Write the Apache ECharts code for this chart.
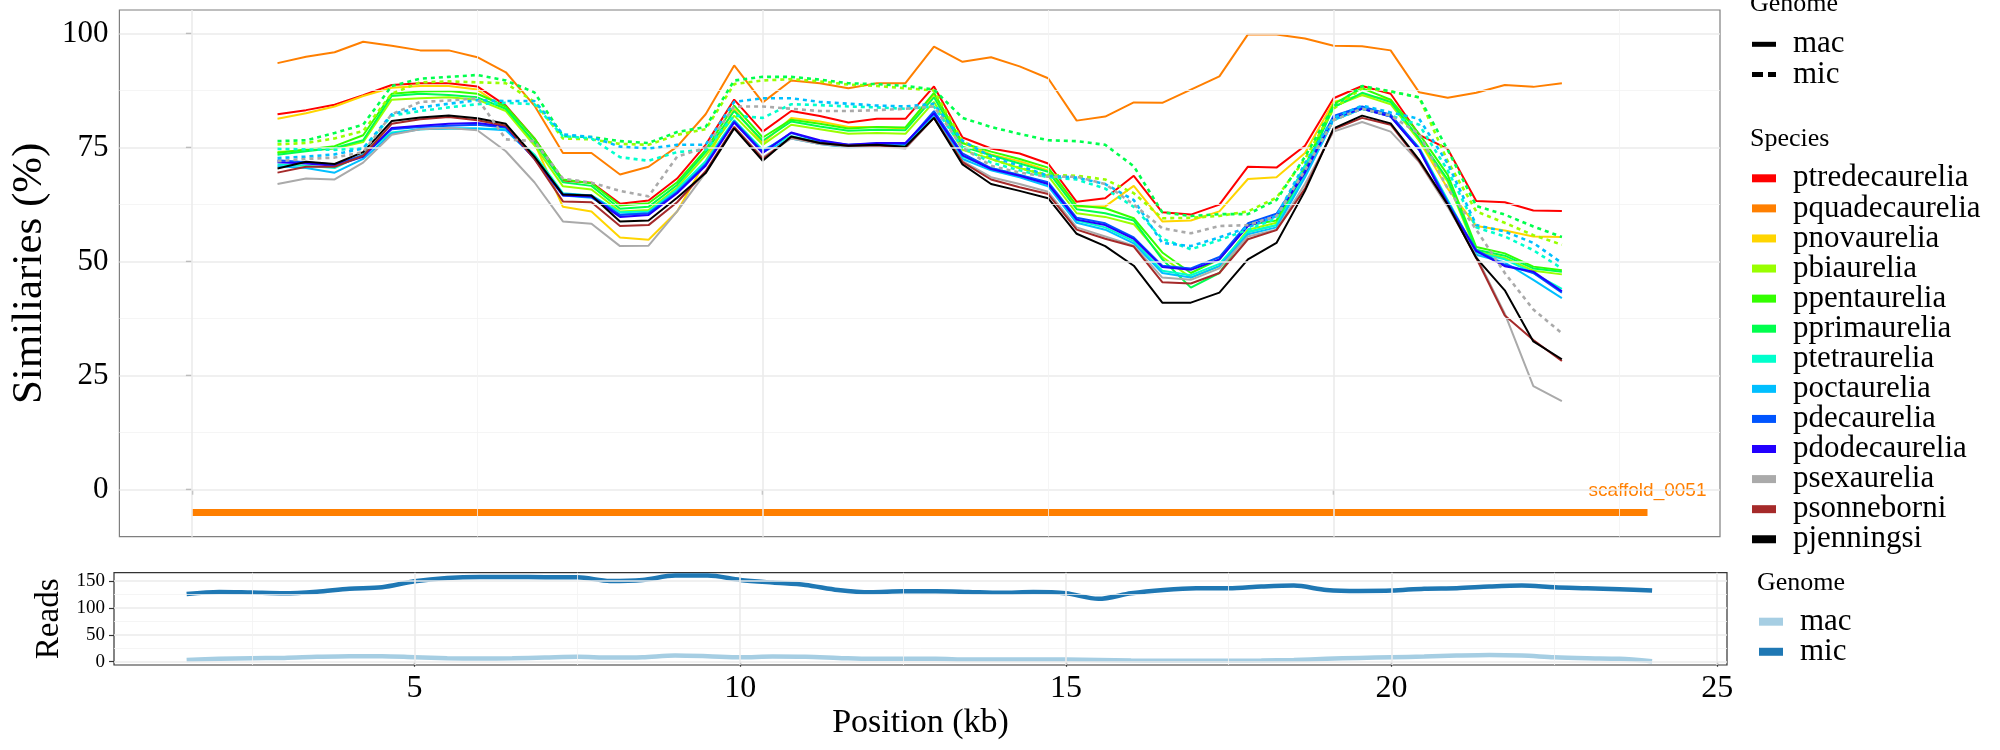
<!DOCTYPE html>
<html><head><meta charset="utf-8">
<script src="https://cdn.jsdelivr.net/npm/echarts@6/dist/echarts.min.js"></script>
<style>html,body{margin:0;padding:0;background:#fff}#c{width:2000px;height:750px}</style>
</head><body><div id="c"></div>
<script>
// ---------- data ----------
const positions = [1.5,2,2.5,3,3.5,4,4.5,5,5.5,6,6.5,7,7.5,8,8.5,9,9.5,10,10.5,11,11.5,12,12.5,13,13.5,14,14.5,15,15.5,16,16.5,17,17.5,18,18.5,19,19.5,20,20.5,21,21.5,22,22.5,23,23.5,24];

const species = ['ptredecaurelia','pquadecaurelia','pnovaurelia','pbiaurelia','ppentaurelia','pprimaurelia','ptetraurelia','poctaurelia','pdecaurelia','pdodecaurelia','psexaurelia','psonneborni','pjenningsi'];
const speciesColors = ['#FF0000','#FF7F00','#FFD500','#99FF00','#33FF00','#00FF4D','#00FFCC','#00BFFF','#0055FF','#2200FF','#AAAAAA','#A52A2A','#000000'];

const macPtredecaurelia = [82.3,83.2,84.4,86.5,88.7,89.1,89.1,88.4,84.2,77.0, 67.8,67.3,62.7,63.4,68.2,75.6,85.5,78.5,83.0,81.9, 80.5,81.3,81.3,88.4,77.2,74.8,73.7,71.5,63.1,63.9, 68.8,60.8,60.3,62.5,70.8,70.6,75.4,85.8,88.5,86.8, 77.8,74.7,63.3,63.0,61.2,61.1];
const macPquadecaurelia = [93.5,94.9,95.9,98.2,97.3,96.3,96.3,94.8,91.5,84.2, 73.8,73.8,69.1,70.8,75.2,82.3,93.0,84.9,89.7,89.1, 88.0,89.1,89.1,97.1,93.8,94.8,92.8,90.2,80.9,81.8, 84.9,84.8,87.7,90.6,99.8,99.8,98.9,97.3,97.2,96.3, 87.1,85.9,87.0,88.7,88.3,89.1];
const macPnovaurelia = [81.3,82.5,84.0,86.3,88.1,88.5,88.5,87.7,83.4,76.0, 62.0,61.0,55.3,54.8,61.0,72.0,83.5,76.0,81.5,80.7, 79.5,79.5,79.2,86.6,76.0,73.5,72.0,70.0,62.1,62.1, 66.6,58.8,59.0,61.0,68.1,68.5,73.8,85.0,86.5,85.5, 76.5,66.0,57.8,56.8,55.5,55.4];
const macPbiaurelia = [74.0,74.4,74.8,76.2,85.5,85.8,86.0,85.5,83.0,75.5, 66.5,65.8,61.0,61.3,66.2,73.3,82.0,75.6,80.0,79.0, 78.0,78.2,78.0,85.0,74.5,72.5,70.5,68.8,60.6,59.8, 58.2,51.0,46.5,49.0,57.0,58.5,70.5,84.0,86.5,84.5, 76.5,67.5,52.2,50.8,48.0,47.2];
const macPpentaurelia = [73.8,74.6,75.3,77.7,86.8,87.3,87.4,86.8,84.0,77.0, 68.0,67.2,62.3,62.8,67.4,74.5,84.2,77.2,81.1,80.2, 79.2,79.5,79.4,87.0,76.0,74.1,72.5,70.6,62.3,61.7, 59.5,52.0,47.5,50.5,58.0,59.0,71.0,84.5,88.0,85.5, 78.0,69.0,53.2,51.8,48.9,48.1];
const macPprimaurelia = [73.4,74.2,74.9,76.6,86.3,86.8,86.5,86.0,83.5,76.2, 67.4,66.6,61.6,62.0,66.8,74.0,83.0,76.5,80.7,79.6, 78.7,78.9,78.8,86.0,75.2,73.3,71.5,69.7,61.5,60.6, 59.0,50.5,44.3,47.5,56.5,58.0,70.0,83.8,87.0,85.0, 77.0,68.0,52.6,51.3,48.5,47.8];
const macPtetraurelia = [71.3,71.0,70.5,73.5,78.3,79.0,79.2,79.2,79.0,73.5, 65.0,64.5,60.8,61.0,65.8,72.0,81.0,74.5,77.5,76.2, 75.5,75.6,75.4,82.5,73.0,70.5,69.0,67.0,59.0,57.5, 54.5,48.0,47.0,49.5,56.5,58.0,69.0,81.0,83.5,82.0, 75.0,63.5,52.0,50.5,47.5,44.0];
const macPoctaurelia = [70.9,70.5,69.5,72.5,78.0,79.0,79.2,79.2,78.8,72.8, 64.5,64.0,60.3,60.6,65.4,71.5,80.6,74.0,77.0,75.8, 75.0,75.3,75.2,82.0,72.5,70.0,68.5,66.5,58.5,57.0, 54.0,47.5,46.5,49.0,56.0,57.5,68.5,81.0,83.5,81.8, 74.5,63.0,51.5,49.8,46.0,42.0];
const macPdecaurelia = [72.2,71.8,71.3,73.3,79.0,79.5,79.8,80.0,79.4,72.7, 64.8,64.5,60.2,60.6,65.2,71.3,80.8,74.1,78.2,76.4, 75.6,75.9,75.8,83.0,73.7,70.5,69.0,67.4,59.6,58.4, 55.3,49.1,48.5,51.0,58.4,60.5,70.0,81.9,84.0,82.2, 74.8,63.0,52.5,49.3,47.5,43.2];
const macPdodecaurelia = [71.8,71.5,71.0,73.0,79.3,79.8,80.2,80.4,79.6,72.5, 64.5,64.2,59.8,60.2,65.0,71.0,80.5,73.8,78.3,76.6, 75.6,76.0,76.0,82.5,73.3,70.3,68.8,67.0,59.2,58.0, 55.0,48.8,48.2,50.5,57.8,60.0,69.5,81.5,83.5,81.8, 74.5,62.5,52.3,49.0,47.8,43.5];
const macPsexaurelia = [67.0,68.2,68.0,71.7,77.8,79.0,79.3,78.8,74.2,67.4, 58.8,58.3,53.4,53.5,61.0,69.5,79.5,72.8,77.0,75.8, 75.2,75.3,74.8,81.5,72.0,68.5,67.0,65.3,57.5,55.5, 53.5,46.5,46.0,48.5,55.5,57.0,67.0,78.5,80.6,78.5, 71.8,62.0,51.2,38.6,22.7,19.4];
const macPsonneborni = [69.5,70.8,70.8,73.2,80.2,81.2,81.7,81.0,79.8,72.5, 63.2,63.0,57.8,58.0,63.0,69.8,79.5,72.5,77.3,76.0, 75.4,75.5,75.0,81.5,71.8,68.0,66.3,64.8,57.0,55.0, 53.3,45.5,45.2,47.5,54.9,56.9,66.0,79.0,81.5,80.0, 72.0,62.5,50.8,38.2,32.8,28.2];
const macPjenningsi = [70.4,71.9,71.4,74.0,80.8,81.6,82.0,81.4,80.2,73.0, 64.7,64.5,58.8,59.0,64.0,69.4,79.2,72.1,77.4,76.0, 75.4,75.6,75.2,81.5,71.3,67.0,65.5,63.9,56.1,53.4, 49.1,41.0,41.0,43.2,50.5,54.1,65.5,79.2,82.0,80.3, 72.3,62.5,50.8,43.7,32.5,28.6];

const micPbiaurelia = [75.7,76.0,77.0,78.6,86.8,89.3,89.5,89.3,89.1,85.0, 77.0,76.8,75.8,75.6,77.8,79.0,88.9,89.7,90.0,89.5, 88.8,88.5,88.0,87.5,76.5,72.5,70.5,69.0,68.8,68.0, 65.0,59.5,59.6,60.0,61.0,64.0,72.5,83.5,88.0,87.3, 86.0,72.0,61.0,58.5,55.8,53.7];
const micPprimaurelia = [76.4,76.6,78.2,80.0,88.5,90.1,90.5,90.9,89.7,87.1, 77.5,77.3,76.4,76.0,78.4,79.5,89.7,90.5,90.5,89.9, 89.1,88.9,88.5,87.7,81.5,79.5,78.0,76.6,76.4,75.6, 70.9,60.8,60.0,60.4,60.4,63.5,73.0,84.0,88.5,87.3, 86.0,74.5,62.2,60.3,57.7,55.4];
const micPtetraurelia = [74.7,74.6,74.5,74.8,82.0,83.0,83.8,84.5,84.8,84.5, 77.5,77.0,72.9,72.1,74.0,74.5,82.0,81.5,84.5,84.3, 84.0,83.8,83.5,84.0,75.0,71.7,70.0,68.5,68.0,66.0, 62.0,55.0,52.7,54.7,57.0,59.5,71.0,81.0,83.5,82.0, 80.0,70.0,57.5,55.5,52.5,48.5];
const micPoctaurelia = [72.7,73.0,73.5,74.8,82.3,83.8,84.6,85.4,85.2,85.2, 77.9,77.3,75.2,74.8,75.6,75.6,85.0,85.8,85.8,85.0, 84.6,84.2,84.0,84.6,76.5,73.0,71.0,68.8,68.4,67.0, 63.5,54.1,53.4,55.3,57.5,60.0,71.5,81.5,84.2,82.7, 81.3,71.5,58.0,56.6,54.1,49.7];
const micPsexaurelia = [72.0,72.5,72.8,74.0,82.3,85.0,85.3,85.8,76.8,76.4, 68.2,67.3,65.5,64.3,73.0,75.0,84.0,84.0,83.5,83.0, 83.0,83.2,83.5,84.0,75.0,71.0,69.5,68.6,68.6,67.0, 62.5,57.3,56.2,57.8,58.0,60.0,70.0,81.0,83.5,82.0, 78.0,66.0,57.0,47.5,39.5,34.3];

const readsMac = [3.2,5.3,6.5,7.1,9.0,10.2,10.2,8.3,6.5,5.9, 6.5,7.7,9.0,7.7,8.3,11.4,10.2,8.3,9.5,9.0, 7.1,5.3,5.3,5.3,4.0,4.0,4.0,4.0,3.4,2.2, 1.6,1.6,1.6,2.2,3.4,5.3,7.1,8.3,9.5,11.4, 12.6,11.4,8.3,6.5,5.3,1.0];
const readsMic = [125.9,129.6,128.4,127.2,130.2,135.8,138.3,149.4,155.6,157.5, 157.5,156.9,156.9,150.1,152.0,160.0,160.0,152.0,147.0,142.7, 133.4,129.1,130.9,130.9,129.6,128.0,129.6,127.2,116.8,127.2, 133.4,136.5,136.5,139.6,141.4,133.4,131.5,132.1,135.8,136.5, 139.6,141.4,138.3,136.5,134.6,132.1];

const scaffoldName = 'scaffold_0051';
const scaffoldStart = 0, scaffoldEnd = 25.5, scaffoldY = -5;

// tick / grid values
const simTicks = [0,25,50,75,100];
const simMinor = [12.5,37.5,62.5,87.5];
const posTopTicks = [0,10,20];
const posTopMinor = [5,15,25];
const posBottomTicks = [5,10,15,20,25];
const posBottomMinor = [2.5,7.5,12.5,17.5,22.5];
const readsTicks = [0,50,100,150];
const readsMinor = [25,75,125];

// ---------- build ----------
const macSets = [macPtredecaurelia,macPquadecaurelia,macPnovaurelia,macPbiaurelia,macPpentaurelia,macPprimaurelia,macPtetraurelia,macPoctaurelia,macPdecaurelia,macPdodecaurelia,macPsexaurelia,macPsonneborni,macPjenningsi];
const micSets = {pbiaurelia:micPbiaurelia, pprimaurelia:micPprimaurelia, ptetraurelia:micPtetraurelia, poctaurelia:micPoctaurelia, psexaurelia:micPsexaurelia};

const SERIF = 'Liberation Serif';
const pair = arr => positions.map((x,i)=>[x, arr[i]]);
const series = [];

function gridLines(axisKey, major, minor){
  const d = [];
  major.forEach(v=>d.push({[axisKey]:v, lineStyle:{color:'#EBEBEB', width:1.6, type:'solid'}}));
  minor.forEach(v=>d.push({[axisKey]:v, lineStyle:{color:'#F2F2F2', width:0.8, type:'solid'}}));
  return d;
}
series.push({type:'line', xAxisIndex:0, yAxisIndex:0, data:[[scaffoldStart,0]], symbol:'none', lineStyle:{opacity:0}, z:1, silent:true,
  markLine:{silent:true, symbol:['none','none'], label:{show:false}, animation:false,
    data: gridLines('yAxis', simTicks, simMinor).concat(gridLines('xAxis', posTopTicks, posTopMinor))}});
series.push({type:'line', xAxisIndex:1, yAxisIndex:1, data:[[positions[0],0]], symbol:'none', lineStyle:{opacity:0}, z:1, silent:true,
  markLine:{silent:true, symbol:['none','none'], label:{show:false}, animation:false,
    data: gridLines('yAxis', readsTicks, readsMinor).concat(gridLines('xAxis', posBottomTicks, posBottomMinor))}});

// scaffold bar
series.push({type:'line', xAxisIndex:0, yAxisIndex:0, z:3, symbol:'circle', symbolSize:0.1, itemStyle:{color:'rgba(0,0,0,0)'},
  lineStyle:{color:'#FF7F00', width:7, cap:'butt'},
  data:[[scaffoldStart,scaffoldY], {value:[scaffoldEnd,scaffoldY], label:{show:true, position:'top', distance:12, formatter:scaffoldName, color:'#FF7F00', fontFamily:'Liberation Sans', fontSize:19}}]});

species.forEach((sp,k)=>{
  series.push({name:sp, type:'line', xAxisIndex:0, yAxisIndex:0, z:4, data:pair(macSets[k]), symbol:'none', color:speciesColors[k],
    lineStyle:{color:speciesColors[k], width:2}});
});
species.forEach((sp,k)=>{
  if(!micSets[sp]) return;
  series.push({name:sp, type:'line', xAxisIndex:0, yAxisIndex:0, z:5, data:pair(micSets[sp]), symbol:'none', color:speciesColors[k],
    lineStyle:{color:speciesColors[k], width:2.6, type:[4,4]}});
});
// legend dummies for genome linetype
series.push({name:'mac', type:'line', xAxisIndex:0, yAxisIndex:0, data:[], symbol:'none', color:'#000', lineStyle:{color:'#000', width:4}});
series.push({name:'mic', type:'line', xAxisIndex:0, yAxisIndex:0, data:[], symbol:'none', color:'#000', lineStyle:{color:'#000', width:4, type:[11,5]}});

// reads
series.push({name:'Reads mac', type:'line', xAxisIndex:1, yAxisIndex:1, z:4, data:pair(readsMac), symbol:'none', smooth:0.3, color:'#A6CEE3', lineStyle:{color:'#A6CEE3', width:4.5}});
series.push({name:'Reads mic', type:'line', xAxisIndex:1, yAxisIndex:1, z:4, data:pair(readsMic), symbol:'none', smooth:0.3, color:'#1F78B4', lineStyle:{color:'#1F78B4', width:4.5}});

const legendText = {fontFamily:SERIF, fontSize:31, color:'#000', padding:[0,0,0,12]};
const titleStyle = {fontFamily:SERIF, fontSize:26, fontWeight:'normal', color:'#000'};
const ROW_GAP = -0.92;

const option = {
  animation:false,
  backgroundColor:'#fff',
  textStyle:{fontFamily:SERIF},
  title:[
    {text:'Genome', left:1750, top:-9, padding:0, textStyle:titleStyle},
    {text:'Species', left:1750, top:126, padding:0, textStyle:titleStyle},
    {text:'Genome', left:1757, top:570, padding:0, textStyle:titleStyle}
  ],
  legend:[
    {data:[{name:'mac', icon:'rect'}, {name:'mic', icon:'path://M0,0L11,0L11,5L0,5Z M16,0L24,0L24,5L16,5Z'}],
     orient:'vertical', left:1752, top:28.8, itemWidth:24, itemHeight:5, itemGap:ROW_GAP, selectedMode:false, textStyle:legendText, padding:0},
    {data:species, orient:'vertical', left:1752, top:162.8, icon:'rect', itemWidth:24, itemHeight:8, itemGap:ROW_GAP, selectedMode:false, textStyle:legendText, padding:0},
    {data:['Reads mac','Reads mic'], orient:'vertical', left:1759, top:606.2, icon:'rect', itemWidth:24, itemHeight:8, itemGap:ROW_GAP, selectedMode:false, textStyle:legendText, padding:0,
     formatter:n=>n.replace('Reads ','')}
  ],
  grid:[
    {left:112.7, top:10, width:1607.3, height:526.7, show:true, borderColor:'#7F7F7F', borderWidth:1.2, backgroundColor:'#fff'},
    {left:114, top:572.7, width:1613, height:92.3, show:true, borderColor:'#333', borderWidth:1.2, backgroundColor:'#fff'}
  ],
  xAxis:[
    {gridIndex:0, type:'value', min:-1.27, max:26.77, axisLine:{show:false}, splitLine:{show:false},
     axisTick:{show:true, customValues:posTopTicks, length:5, lineStyle:{color:'#333', width:1.2}}, axisLabel:{show:false}},
    {gridIndex:1, type:'value', min:0.385, max:25.15, axisLine:{show:false}, splitLine:{show:false},
     axisTick:{show:true, customValues:posBottomTicks, length:5, lineStyle:{color:'#333', width:1.2}},
     axisLabel:{customValues:posBottomTicks, fontSize:32, margin:8, color:'#000', fontFamily:SERIF},
     name:'Position (kb)', nameLocation:'middle', nameGap:41, nameTextStyle:{fontSize:34, color:'#000', fontFamily:SERIF}}
  ],
  yAxis:[
    {gridIndex:0, type:'value', min:-10.3, max:105.15, axisLine:{show:false}, splitLine:{show:false},
     axisTick:{show:true, customValues:simTicks, length:6, lineStyle:{color:'#333', width:1.2}},
     axisLabel:{customValues:simTicks, fontSize:31, margin:11, color:'#000', fontFamily:SERIF},
     name:'Similiaries (%)', nameLocation:'middle', nameGap:64, nameRotate:90, nameTextStyle:{fontSize:43, color:'#000', fontFamily:SERIF}},
    {gridIndex:1, type:'value', min:-6.1, max:165.4, axisLine:{show:false}, splitLine:{show:false},
     axisTick:{show:true, customValues:readsTicks, length:5, lineStyle:{color:'#333', width:1.2}},
     axisLabel:{customValues:readsTicks, fontSize:19, margin:9, color:'#000', fontFamily:SERIF},
     name:'Reads', nameLocation:'middle', nameGap:46, nameRotate:90, nameTextStyle:{fontSize:33, color:'#000', fontFamily:SERIF}}
  ],
  series:series
};
const chart = echarts.init(document.getElementById('c'), null, {renderer:'canvas'});
chart.setOption(option);
</script></body></html>
